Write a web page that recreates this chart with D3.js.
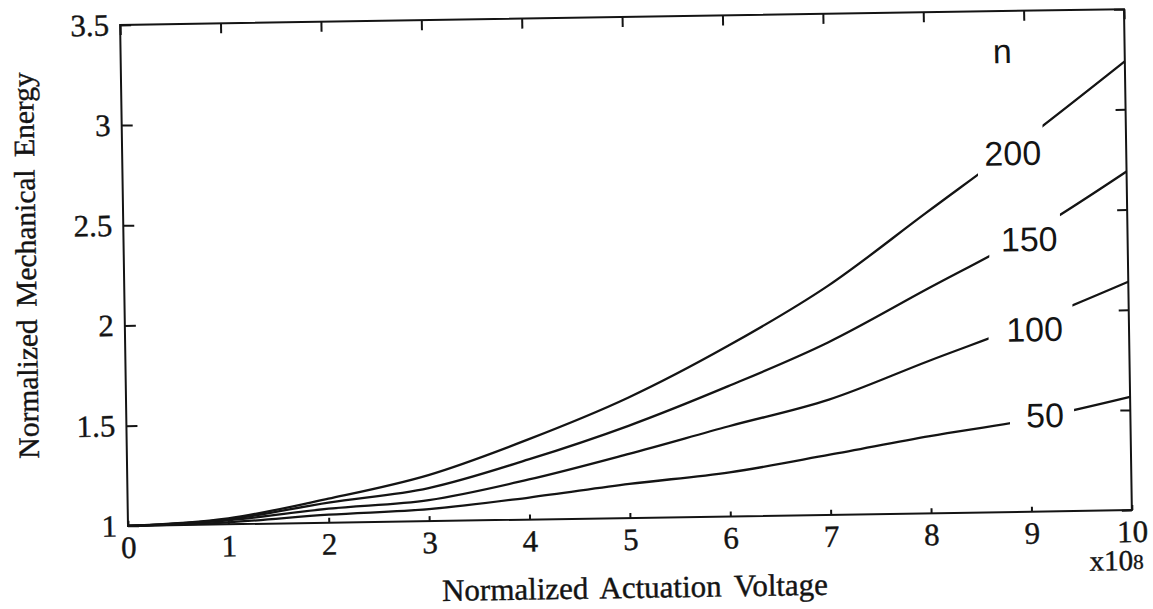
<!DOCTYPE html>
<html>
  <head>
    <script src="https://d3js.org/d3.v7.min.js"></script>
    <style>
      body { margin: 0; background: #fff; }
      svg { display: block; }
    </style>
  </head>
  <body>
    <svg width="1153" height="609"></svg>
    <script>
      // normalized actuation voltage (x10^8)
      const voltage = [0, 1, 2, 3, 4, 5, 6, 7, 8, 9, 10];
      // normalized mechanical energy for each n
      const energy200 = [1.00, 1.03, 1.12, 1.23, 1.40, 1.60, 1.85, 2.14, 2.50, 2.86, 3.24];
      const energy150 = [1.00, 1.025, 1.10, 1.165, 1.30, 1.46, 1.65, 1.86, 2.12, 2.38, 2.69];
      const energy100 = [1.00, 1.02, 1.07, 1.105, 1.20, 1.32, 1.45, 1.575, 1.76, 1.94, 2.14];
      const energy50 = [1.00, 1.01, 1.04, 1.06, 1.11, 1.17, 1.22, 1.30, 1.385, 1.46, 1.565];
      const nValues = ["200", "150", "100", "50"];
      const xTicks = [0, 1, 2, 3, 4, 5, 6, 7, 8, 9, 10];
      const yTicks = [1, 1.5, 2, 2.5, 3, 3.5];

      const curves = [energy200, energy150, energy100, energy50];
      // where each curve is broken for its label, and where the label sits
      const gaps = [[8.52, 9.17], [8.62, 9.33], [8.60, 9.44], [8.80, 9.44]];
      const labelAt = [[8.87, 2.73], [9.02, 2.30], [9.06, 1.85], [9.15, 1.42]];

      const ink = "#141414";
      const serif = "'Liberation Serif', 'Times New Roman', serif";
      const sans = "'Liberation Sans', Arial, sans-serif";

      const svg = d3.select("svg");
      const x = d3.scaleLinear().domain([0, 10]).range([124, 1128]);
      const y = d3.scaleLinear().domain([1, 3.5]).range([518, 17]);

      // the scan is slightly tilted
      const g = svg.append("g").attr("transform", "rotate(-0.9 627 268)");

      const styleAxis = sel => {
        sel.select(".domain").remove();
        sel.selectAll("line").attr("stroke", ink).attr("stroke-width", 2);
        sel.selectAll("text")
          .attr("fill", ink)
          .attr("stroke", ink)
          .attr("stroke-width", 0.4)
          .style("font-family", serif)
          .style("font-size", "31px");
      };

      g.append("g")
        .attr("transform", `translate(0,${y(1)})`)
        .call(d3.axisBottom(x).tickValues(xTicks).tickFormat(d3.format("d"))
          .tickSizeInner(-5).tickSizeOuter(0).tickPadding(10))
        .call(styleAxis);

      g.append("g")
        .attr("transform", `translate(${x(0)},0)`)
        .call(d3.axisLeft(y).tickValues(yTicks).tickFormat(d => String(d))
          .tickSizeInner(-11).tickSizeOuter(0).tickPadding(11))
        .call(styleAxis);

      g.append("g")
        .attr("transform", `translate(0,${y(3.5)})`)
        .call(d3.axisTop(x).tickValues(xTicks).tickFormat("")
          .tickSizeInner(-10).tickSizeOuter(0))
        .call(styleAxis);

      g.append("g")
        .attr("transform", `translate(${x(10)},0)`)
        .call(d3.axisRight(y).tickValues(yTicks).tickFormat("")
          .tickSizeInner(-10).tickSizeOuter(0))
        .call(styleAxis);

      g.append("rect")
        .attr("x", x(0)).attr("y", y(3.5))
        .attr("width", x(10) - x(0)).attr("height", y(1) - y(3.5))
        .attr("fill", "none").attr("stroke", ink).attr("stroke-width", 2);

      // curves, each clipped around its label
      const defs = svg.append("defs");
      const line = d3.line()
        .x((d, i) => x(voltage[i]))
        .y(d => y(d))
        .curve(d3.curveMonotoneX);

      curves.forEach((vals, k) => {
        const clip = defs.append("clipPath").attr("id", "clip" + k);
        clip.append("rect")
          .attr("x", x(0) - 5).attr("y", 0)
          .attr("width", x(gaps[k][0]) - x(0) + 5).attr("height", 609);
        clip.append("rect")
          .attr("x", x(gaps[k][1])).attr("y", 0)
          .attr("width", x(10) - x(gaps[k][1]) + 5).attr("height", 609);

        g.append("path")
          .datum(vals)
          .attr("clip-path", `url(#clip${k})`)
          .attr("fill", "none")
          .attr("stroke", ink)
          .attr("stroke-width", 2.3)
          .attr("stroke-linejoin", "round")
          .attr("d", line);

        g.append("text")
          .attr("x", x(labelAt[k][0])).attr("y", y(labelAt[k][1]))
          .attr("text-anchor", "middle")
          .attr("fill", ink)
          .style("font-family", sans)
          .style("font-size", "34px")
          .text(nValues[k]);
      });

      g.append("text")
        .attr("x", x(8.78)).attr("y", y(3.24))
        .attr("text-anchor", "middle")
        .attr("fill", ink)
        .style("font-family", sans)
        .style("font-size", "34px")
        .text("n");

      // axis titles
      g.append("text")
        .attr("x", 630).attr("y", 598)
        .attr("text-anchor", "middle")
        .attr("fill", ink)
        .attr("stroke", ink)
        .attr("stroke-width", 0.4)
        .style("font-family", serif)
        .style("font-size", "31px")
        .style("word-spacing", "5px")
        .text("Normalized Actuation Voltage");

      g.append("text")
        .attr("transform", "translate(36,256) rotate(-90)")
        .attr("text-anchor", "middle")
        .attr("fill", ink)
        .attr("stroke", ink)
        .attr("stroke-width", 0.4)
        .style("font-family", serif)
        .style("font-size", "29.5px")
        .style("word-spacing", "5px")
        .text("Normalized Mechanical Energy");

      const mult = g.append("text")
        .attr("x", 1139).attr("y", 578)
        .attr("text-anchor", "end")
        .attr("fill", ink)
        .attr("stroke", ink)
        .attr("stroke-width", 0.4)
        .style("font-family", serif)
        .style("font-size", "29px");
      mult.append("tspan").text("x10");
      mult.append("tspan").style("font-size", "21px").attr("dy", -1).text("8");
    </script>
  </body>
</html>
